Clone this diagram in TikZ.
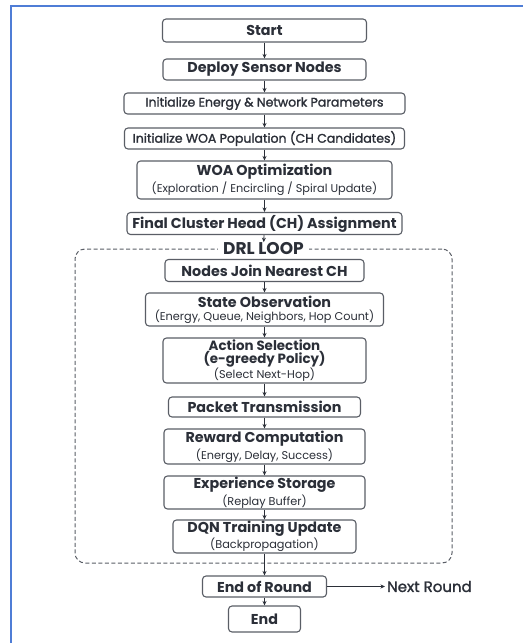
\documentclass[tikz,border=0pt]{standalone}
\usepackage{fontspec}
\setmainfont{Poppins}
\newfontfamily\medfont[FakeBold=1.5]{Poppins}
\usetikzlibrary{arrows.meta}
\definecolor{txt}{HTML}{2B2F38}
\definecolor{edge}{HTML}{5A5E66}
\definecolor{frame}{HTML}{4F7DD6}
\newcommand{\ttl}{\bfseries\fontsize{14.3}{15}\selectfont}
\newcommand{\ttls}{\bfseries\fontsize{13.4}{14.5}\selectfont}
\newcommand{\mdl}{\medfont\fontsize{12.5}{14}\selectfont}
\newcommand{\sbl}{\fontsize{11.3}{12}\selectfont}
\begin{document}
\begin{tikzpicture}[x=1pt,y=-1pt,
  box/.style={draw=edge, line width=1.1pt, rounded corners=3.5pt, fill=white, text=txt, align=center, inner sep=0pt},
  arr/.style={-{Stealth[length=4.5pt,width=4pt]}, draw=txt, line width=0.9pt},
  loopbox/.style={draw=edge, line width=1pt, dash pattern=on 4pt off 2.5pt, rounded corners=10pt, inner sep=0pt},
  plain/.style={text=txt, inner sep=2pt}]
\useasboundingbox (0,0) rectangle (523,643);
\fill[white] (0,0) rectangle (523,643);
\draw[frame, line width=2.6pt] (11,643) -- (11,6) -- (523,6);

\node[loopbox, minimum width=377, minimum height=314] (loop) at (263.5,406) {};
\node[fill=white, text=txt, inner xsep=5pt, inner ysep=0pt, font=\bfseries\fontsize{17}{18}\selectfont] (drl) at (loop.north) {DRL LOOP};

\node[box, minimum width=204, minimum height=23, font=\ttl] (start) at (264.5,30.5) {Start};
\node[box, minimum width=203, minimum height=21, font=\ttl] (deploy) at (264.5,69.5) {Deploy Sensor Nodes};
\node[box, minimum width=281, minimum height=21, font=\mdl] (initE) at (264.5,103.5) {Initialize Energy \& Network Parameters};
\node[box, minimum width=280, minimum height=21, font=\mdl] (initW) at (264.5,138.5) {Initialize WOA Population (CH Candidates)};
\node[box, minimum width=255, minimum height=38] (woa) at (264.5,180) {{\ttl WOA Optimization}\\[2pt]{\sbl (Exploration / Encircling / Spiral Update)}};
\node[box, minimum width=275, minimum height=22, font=\ttl] (final) at (264.5,223.5) {Final Cluster Head (CH) Assignment};

\node[box, minimum width=199, minimum height=22, font=\ttl] (join) at (264.5,270.5) {Nodes Join Nearest CH};
\node[box, minimum width=238, minimum height=33] (state) at (264.5,309.5) {{\ttl State Observation}\\[1pt]{\sbl (Energy, Queue, Neighbors, Hop Count)}};
\node[box, minimum width=203, minimum height=45] (action) at (264.5,360.5) {{\ttls Action Selection}\\{\ttls (e-greedy Policy)}\\{\sbl (Select Next-Hop)}};
\node[box, minimum width=192, minimum height=20, font=\ttl] (packet) at (264.5,407) {Packet Transmission};
\node[box, minimum width=201, minimum height=35] (reward) at (264.5,446.5) {{\ttl Reward Computation}\\[2pt]{\sbl (Energy, Delay, Success)}};
\node[box, minimum width=201, minimum height=33] (exp) at (264.5,492.5) {{\ttl Experience Storage}\\[1pt]{\sbl (Replay Buffer)}};
\node[box, minimum width=183, minimum height=33] (dqn) at (264.5,536.5) {{\ttl DQN Training Update}\\[1pt]{\sbl (Backpropagation)}};

\node[box, minimum width=124, minimum height=21, font=\ttl] (eor) at (264.5,586.5) {End of Round};
\node[box, minimum width=72, minimum height=26, font=\ttl] (endn) at (264.5,619) {End};
\node[plain, anchor=west, font=\medfont\fontsize{15}{16}\selectfont] (next) at (385,586.5) {Next Round};

\draw[arr] (start) -- (deploy);
\draw[arr] (deploy) -- (initE);
\draw[arr] (initE) -- (initW);
\draw[arr] (initW) -- (woa);
\draw[arr] (woa) -- (final);
\draw[arr] (final) -- (drl);
\draw[arr] (join) -- (state);
\draw[arr] (state) -- (action);
\draw[arr] (action) -- (packet);
\draw[arr] (packet) -- (reward);
\draw[arr] (reward) -- (exp);
\draw[arr] (exp) -- (dqn);
\draw[arr] (dqn) -- (eor);
\draw[arr] (eor) -- (endn);
\draw[arr] (eor) -- (next);
\end{tikzpicture}
\end{document}
